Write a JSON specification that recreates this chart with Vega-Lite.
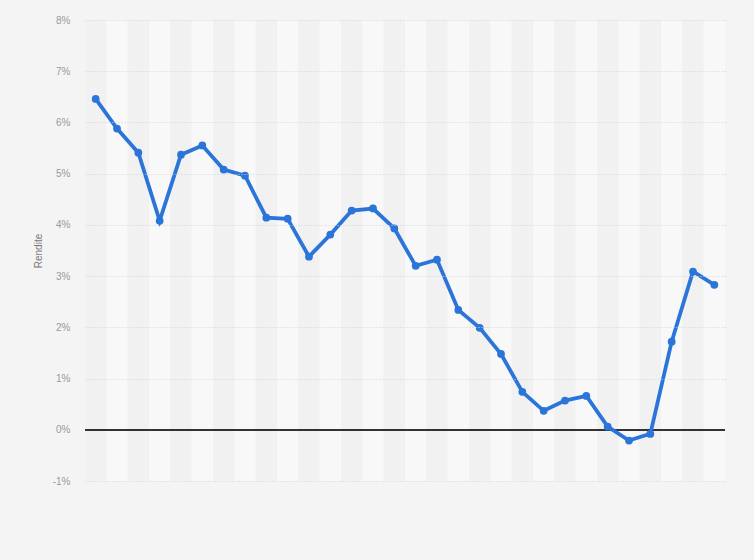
{
  "$schema": "https://vega.github.io/schema/vega-lite/v6.json",
  "width": 640,
  "height": 461,
  "autosize": {"type": "none"},
  "padding": {"left": 85, "top": 20, "right": 29, "bottom": 79},
  "background": "#f4f4f4",
  "config": {
    "view": {"stroke": null},
    "font": "Liberation Sans"
  },
  "data": {
    "values": [
      {"year": 1995, "rendite": 6.46},
      {"year": 1996, "rendite": 5.88},
      {"year": 1997, "rendite": 5.41},
      {"year": 1998, "rendite": 4.08},
      {"year": 1999, "rendite": 5.37},
      {"year": 2000, "rendite": 5.55},
      {"year": 2001, "rendite": 5.08},
      {"year": 2002, "rendite": 4.96},
      {"year": 2003, "rendite": 4.14},
      {"year": 2004, "rendite": 4.12},
      {"year": 2005, "rendite": 3.38},
      {"year": 2006, "rendite": 3.81},
      {"year": 2007, "rendite": 4.28},
      {"year": 2008, "rendite": 4.32},
      {"year": 2009, "rendite": 3.93},
      {"year": 2010, "rendite": 3.20},
      {"year": 2011, "rendite": 3.32},
      {"year": 2012, "rendite": 2.34},
      {"year": 2013, "rendite": 1.99},
      {"year": 2014, "rendite": 1.48},
      {"year": 2015, "rendite": 0.74},
      {"year": 2016, "rendite": 0.37},
      {"year": 2017, "rendite": 0.57},
      {"year": 2018, "rendite": 0.66},
      {"year": 2019, "rendite": 0.06},
      {"year": 2020, "rendite": -0.21},
      {"year": 2021, "rendite": -0.08},
      {"year": 2022, "rendite": 1.72},
      {"year": 2023, "rendite": 3.09},
      {"year": 2024, "rendite": 2.83}
    ]
  },
  "encoding": {
    "x": {
      "field": "year",
      "type": "ordinal",
      "scale": {"paddingInner": 0, "paddingOuter": 0},
      "axis": null
    }
  },
  "layer": [
    {
      "mark": {"type": "rect"},
      "encoding": {
        "y": {"datum": 8, "type": "quantitative"},
        "y2": {"datum": -1},
        "color": {
          "condition": {"test": "datum.year % 2 == 0", "value": "#f8f8f8"},
          "value": "#f1f1f1"
        }
      }
    },
    {
      "mark": {"type": "rule", "color": "#333333", "strokeWidth": 1.2},
      "encoding": {
        "x": null,
        "y": {"datum": 0, "type": "quantitative"}
      }
    },
    {
      "mark": {
        "type": "line",
        "color": "#2a74da",
        "strokeWidth": 3.8,
        "point": {"filled": true, "size": 60, "color": "#2a74da"}
      },
      "encoding": {
        "y": {
          "field": "rendite",
          "type": "quantitative",
          "scale": {"domain": [-1, 8], "nice": false, "zero": false},
          "axis": {
            "title": "Rendite",
            "titleFontSize": 10,
            "titleFontWeight": "normal",
            "titleColor": "#777777",
            "titlePadding": 9,
            "values": [-1, 0, 1, 2, 3, 4, 5, 6, 7, 8],
            "labelExpr": "datum.value + '%'",
            "labelFontSize": 10,
            "labelColor": "#999999",
            "labelPadding": 15,
            "domain": false,
            "ticks": false,
            "grid": true,
            "gridColor": "#d2d2d2",
            "gridDash": [1, 2],
            "gridWidth": 1,
            "gridOpacity": {"condition": {"test": "datum.value === 0", "value": 0}, "value": 1},
            "zindex": 1
          }
        }
      }
    }
  ]
}
